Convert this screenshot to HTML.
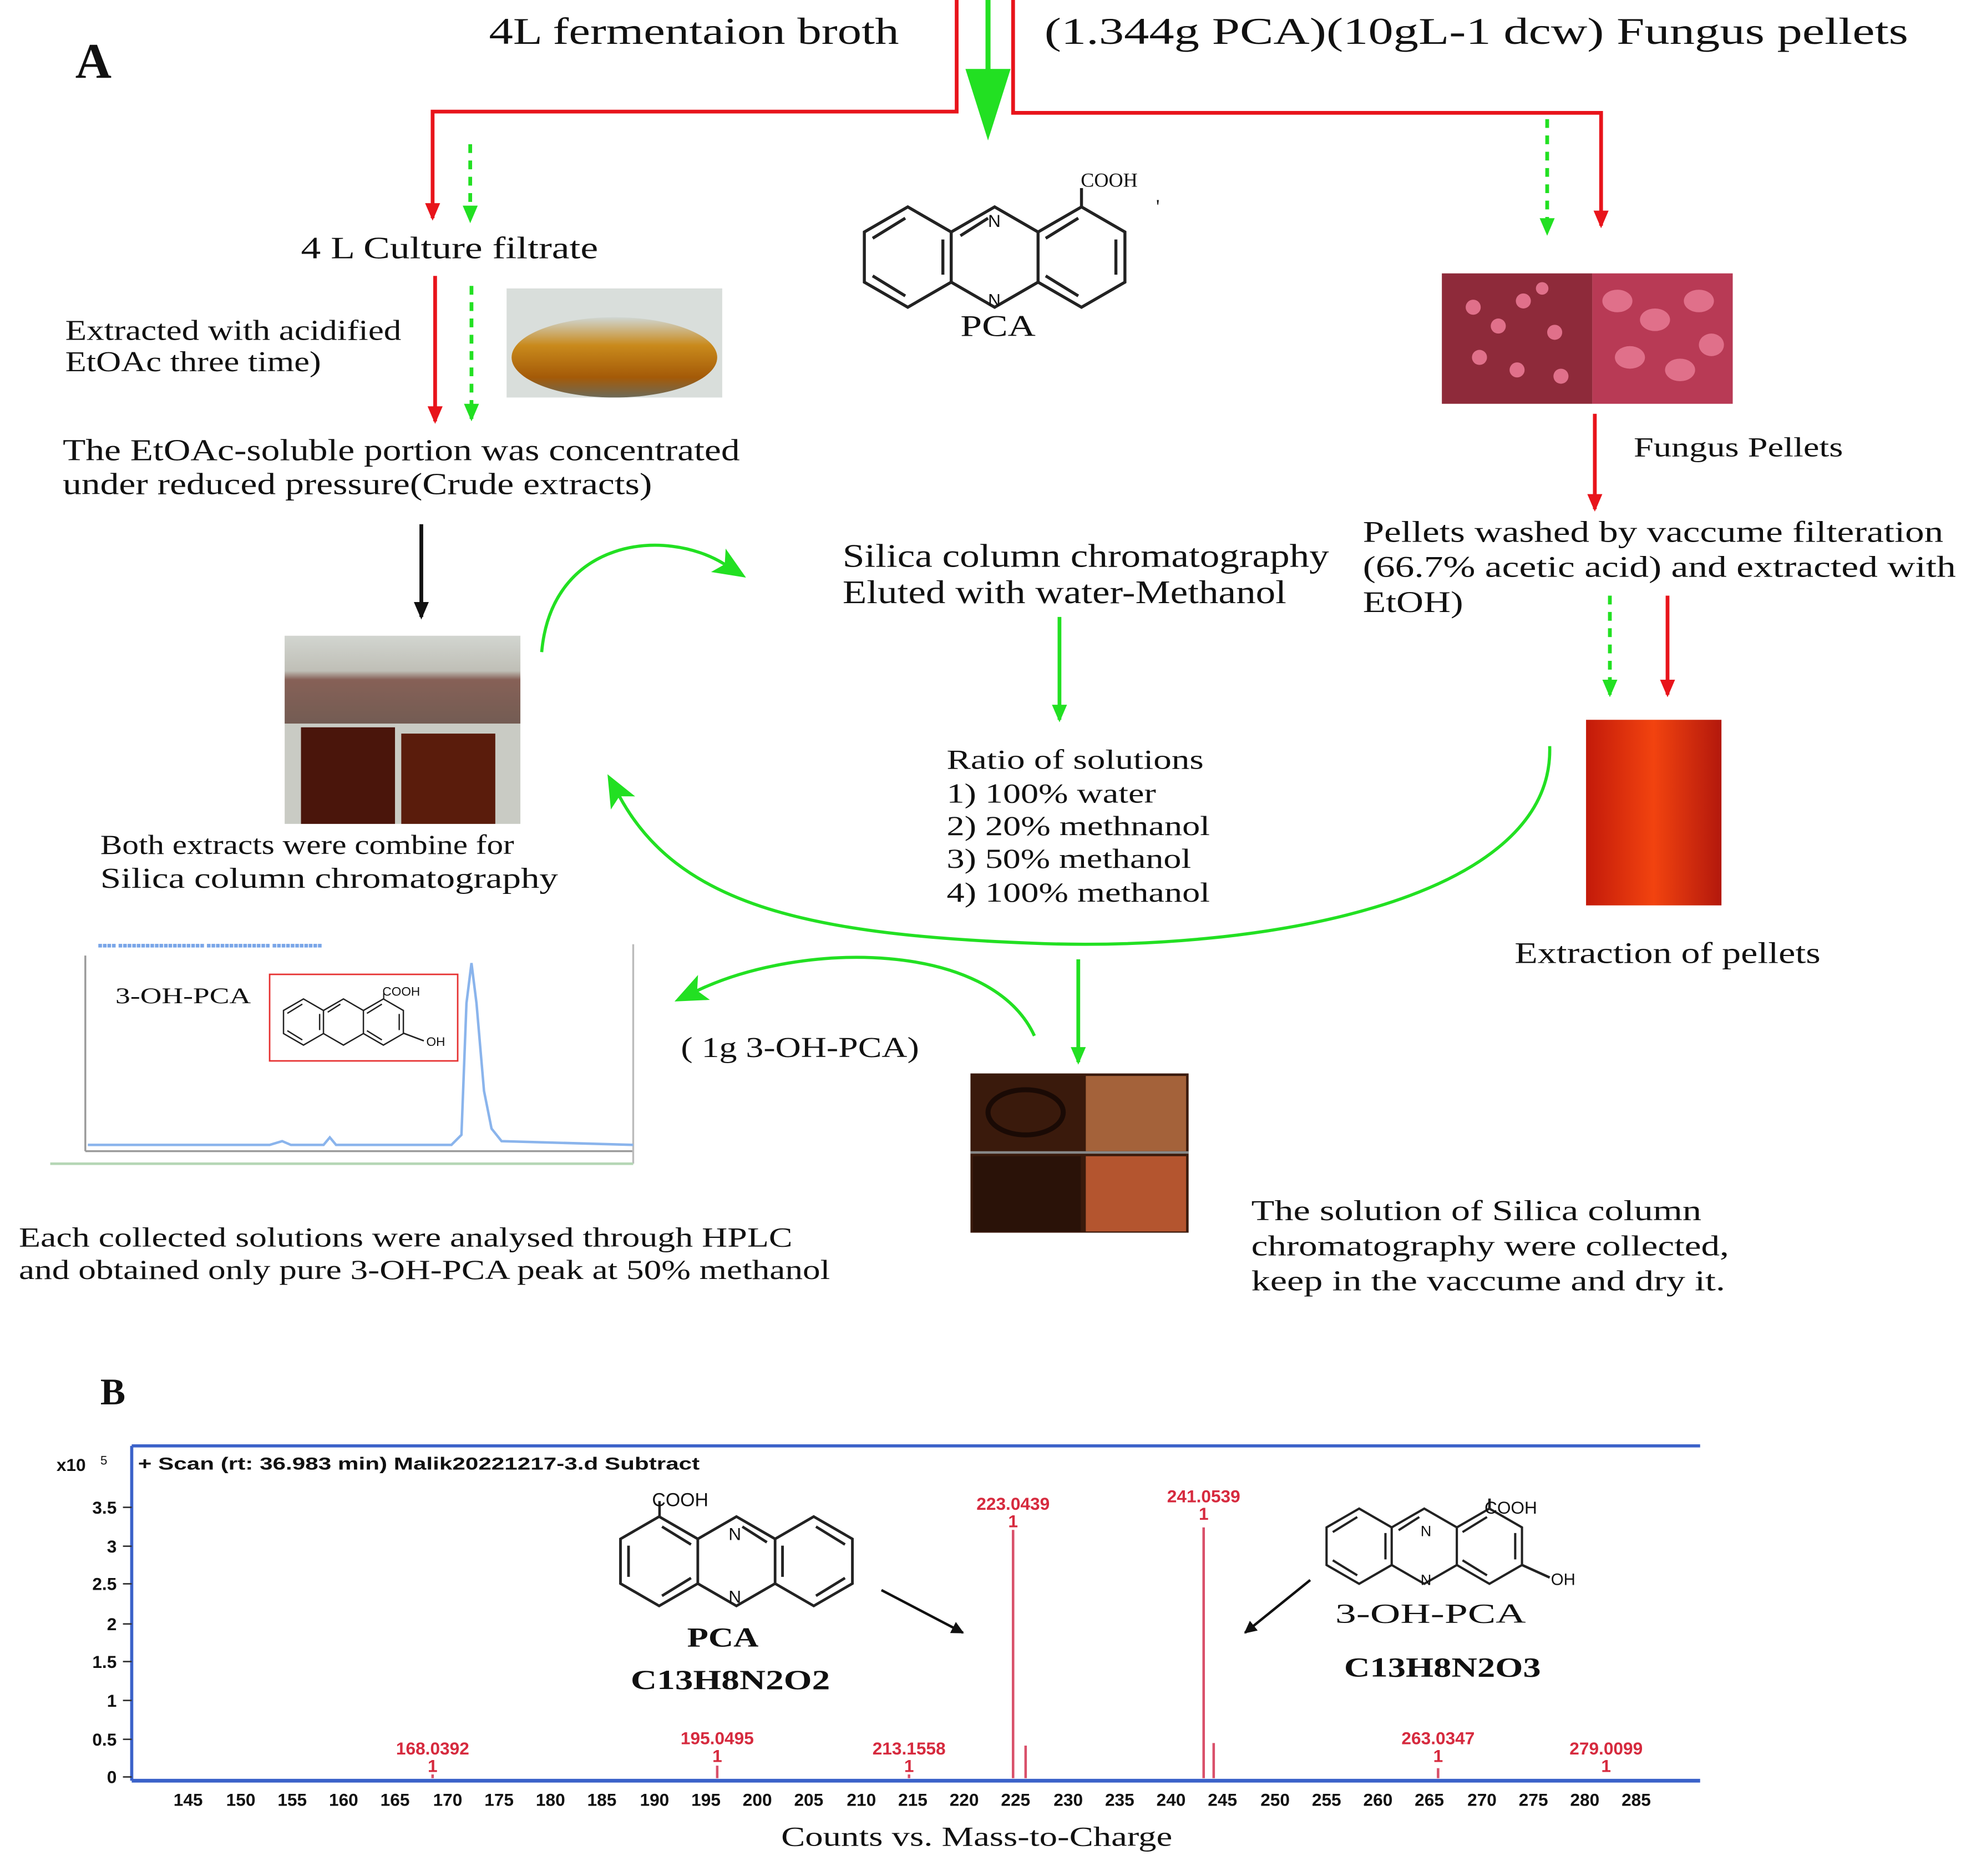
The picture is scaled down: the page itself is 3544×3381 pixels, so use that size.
<!DOCTYPE html>
<html><head><meta charset="utf-8"><style>
html,body{margin:0;padding:0;background:#fff}
svg{display:block}
text{font-family:"Liberation Serif",serif;fill:#111}
.s{font-family:"Liberation Sans",sans-serif}
</style></head><body>
<svg width="3544" height="3381" viewBox="0 0 1568 1496" xmlns="http://www.w3.org/2000/svg">
<defs>
<marker id="rh" markerWidth="14" markerHeight="12" refX="12" refY="6" orient="auto" markerUnits="userSpaceOnUse" viewBox="0 0 14 12"><path d="M0,0 L14,6 L0,12z" fill="#e8141b"/></marker>
<marker id="gh" markerWidth="14" markerHeight="12" refX="12" refY="6" orient="auto" markerUnits="userSpaceOnUse" viewBox="0 0 14 12"><path d="M0,0 L14,6 L0,12z" fill="#22e022"/></marker>
<marker id="bh" markerWidth="14" markerHeight="12" refX="12" refY="6" orient="auto" markerUnits="userSpaceOnUse" viewBox="0 0 14 12"><path d="M0,0 L14,6 L0,12z" fill="#111"/></marker>
<marker id="gc" markerWidth="26" markerHeight="26" refX="6" refY="13" orient="auto" markerUnits="userSpaceOnUse" viewBox="0 0 26 26"><path d="M0,2 L26,13 L0,24 L6,13z" fill="#22e022"/></marker>
<marker id="kh" markerWidth="10" markerHeight="10" refX="9" refY="5" orient="auto" markerUnits="userSpaceOnUse" viewBox="0 0 10 10"><path d="M0,0 L10,5 L0,10z" fill="#111"/></marker>
<g id="phz" fill="none" stroke="#222" stroke-width="2.4">
<polygon points="0,-40 34.64,-20 34.64,20 0,40 -34.64,20 -34.64,-20"/>
<polyline points="34.64,-20 69.28,-40 103.92,-20 103.92,20 69.28,40 34.64,20"/>
<polyline points="103.92,-20 138.56,-40 173.2,-20 173.2,20 138.56,40 103.92,20"/>
<line x1="-28" y1="-15" x2="-2" y2="-31"/><line x1="-28" y1="15" x2="-2" y2="31"/><line x1="28" y1="-14" x2="28" y2="14"/>
<line x1="110" y1="-15" x2="136" y2="-31"/><line x1="166" y1="-14" x2="166" y2="14"/><line x1="110" y1="15" x2="136" y2="31"/>
<line x1="42" y1="-17" x2="64" y2="-31"/>
</g>
<linearGradient id="flask" x1="0" y1="0" x2="0" y2="1"><stop offset="0" stop-color="#cfd6d2"/><stop offset=".35" stop-color="#c98a1c"/><stop offset=".75" stop-color="#a45a08"/><stop offset="1" stop-color="#6d6a58"/></linearGradient>
<linearGradient id="beak" x1="0" y1="0" x2="0" y2="1"><stop offset="0" stop-color="#d8dcd8"/><stop offset=".4" stop-color="#b9b7ae"/><stop offset=".5" stop-color="#5a1a0e"/><stop offset="1" stop-color="#3a1208"/></linearGradient>
<linearGradient id="tube" x1="0" y1="0" x2="1" y2="0"><stop offset="0" stop-color="#c31a0a"/><stop offset=".5" stop-color="#f2430f"/><stop offset="1" stop-color="#b3180c"/></linearGradient>
</defs>

<text x="60" y="62" font-size="40" font-weight="bold">A</text>
<text x="390" y="35" font-size="30" textLength="327" lengthAdjust="spacingAndGlyphs">4L fermentaion broth</text>
<text x="833" y="35" font-size="30" textLength="689" lengthAdjust="spacingAndGlyphs">(1.344g PCA)(10gL-1 dcw) Fungus pellets</text>

<polyline points="763,0 763,89 345,89 345,174" fill="none" stroke="#e8141b" stroke-width="3" marker-end="url(#rh)"/>
<polyline points="808,0 808,90 1277,90 1277,180" fill="none" stroke="#e8141b" stroke-width="3" marker-end="url(#rh)"/>
<line x1="788" y1="0" x2="788" y2="70" stroke="#22e022" stroke-width="4"/>
<path d="M770,55 L806,55 L788,112z" fill="#22e022"/>
<line x1="375" y1="115" x2="375" y2="176" stroke="#22e022" stroke-width="3" stroke-dasharray="7,6" marker-end="url(#gh)"/>
<line x1="1234" y1="95" x2="1234" y2="186" stroke="#22e022" stroke-width="3" stroke-dasharray="7,6" marker-end="url(#gh)"/>

<text x="240" y="206" font-size="25" textLength="237" lengthAdjust="spacingAndGlyphs">4 L Culture filtrate</text>
<line x1="347" y1="220" x2="347" y2="336" stroke="#e8141b" stroke-width="3" marker-end="url(#rh)"/>
<line x1="376" y1="228" x2="376" y2="334" stroke="#22e022" stroke-width="3" stroke-dasharray="7,6" marker-end="url(#gh)"/>
<rect x="404" y="230" width="172" height="87" fill="#d9dedb"/>
<ellipse cx="490" cy="285" rx="82" ry="32" fill="url(#flask)"/>
<text x="52" y="271" font-size="23" textLength="268" lengthAdjust="spacingAndGlyphs">Extracted with acidified</text>
<text x="52" y="296" font-size="23" textLength="204" lengthAdjust="spacingAndGlyphs">EtOAc three time)</text>
<text x="50" y="367" font-size="24.5" textLength="540" lengthAdjust="spacingAndGlyphs">The EtOAc-soluble portion was concentrated</text>
<text x="50" y="394" font-size="24.5" textLength="470" lengthAdjust="spacingAndGlyphs">under reduced pressure(Crude extracts)</text>
<line x1="336" y1="418" x2="336" y2="492" stroke="#111" stroke-width="3" marker-end="url(#bh)"/>

<rect x="227" y="507" width="188" height="150" fill="#c9cbc4"/>
<rect x="240" y="580" width="75" height="77" fill="#4a150b"/>
<rect x="320" y="585" width="75" height="72" fill="#5a1c0c"/>
<rect x="227" y="507" width="188" height="70" fill="url(#beak)" opacity=".6"/>
<text x="80" y="681" font-size="22" textLength="330" lengthAdjust="spacingAndGlyphs">Both extracts were combine for</text>
<text x="80" y="708" font-size="23" textLength="365" lengthAdjust="spacingAndGlyphs">Silica column chromatography</text>

<use href="#phz" transform="translate(724,205)"/>
<line x1="862.56" y1="165" x2="862.56" y2="150" stroke="#222" stroke-width="2.4"/>
<text x="862" y="149" font-size="16">COOH</text>
<text x="788" y="181" font-size="14" class="s">N</text>
<text x="788" y="244" font-size="14" class="s">N</text>
<text x="922" y="170" font-size="16">'</text>
<text x="766" y="268" font-size="24" textLength="60" lengthAdjust="spacingAndGlyphs">PCA</text>

<rect x="1150" y="218" width="120" height="104" fill="#8e2a3a"/>
<rect x="1270" y="218" width="112" height="104" fill="#b83a55"/>
<g fill="#e0708a">
<circle cx="1175" cy="245" r="6"/><circle cx="1195" cy="260" r="6"/><circle cx="1215" cy="240" r="6"/><circle cx="1240" cy="265" r="6"/><circle cx="1180" cy="285" r="6"/><circle cx="1210" cy="295" r="6"/><circle cx="1245" cy="300" r="6"/><circle cx="1230" cy="230" r="5"/>
<ellipse cx="1290" cy="240" rx="12" ry="9"/><ellipse cx="1320" cy="255" rx="12" ry="9"/><ellipse cx="1355" cy="240" rx="12" ry="9"/><ellipse cx="1300" cy="285" rx="12" ry="9"/><ellipse cx="1340" cy="295" rx="12" ry="9"/><ellipse cx="1365" cy="275" rx="10" ry="9"/>
</g>
<line x1="1272" y1="330" x2="1272" y2="406" stroke="#e8141b" stroke-width="3" marker-end="url(#rh)"/>
<text x="1303" y="364" font-size="22" textLength="167" lengthAdjust="spacingAndGlyphs">Fungus Pellets</text>
<text x="1087" y="432" font-size="24" textLength="463" lengthAdjust="spacingAndGlyphs">Pellets washed by vaccume filteration</text>
<text x="1087" y="460" font-size="24" textLength="473" lengthAdjust="spacingAndGlyphs">(66.7% acetic acid)  and extracted with</text>
<text x="1087" y="488" font-size="24" textLength="80" lengthAdjust="spacingAndGlyphs">EtOH)</text>
<line x1="1284" y1="475" x2="1284" y2="554" stroke="#22e022" stroke-width="3" stroke-dasharray="7,6" marker-end="url(#gh)"/>
<line x1="1330" y1="475" x2="1330" y2="554" stroke="#e8141b" stroke-width="3" marker-end="url(#rh)"/>
<rect x="1265" y="574" width="108" height="148" fill="url(#tube)"/>
<text x="1208" y="768" font-size="24" textLength="244" lengthAdjust="spacingAndGlyphs">Extraction of pellets</text>

<text x="672" y="452" font-size="26" textLength="388" lengthAdjust="spacingAndGlyphs">Silica column chromatography</text>
<text x="672" y="481" font-size="26" textLength="354" lengthAdjust="spacingAndGlyphs">Eluted with water-Methanol</text>
<line x1="845" y1="492" x2="845" y2="574" stroke="#22e022" stroke-width="3" marker-end="url(#gh)"/>
<text x="755" y="613" font-size="22" textLength="205" lengthAdjust="spacingAndGlyphs">Ratio of solutions</text>
<text x="755" y="640" font-size="22" textLength="167" lengthAdjust="spacingAndGlyphs">1) 100% water</text>
<text x="755" y="666" font-size="22" textLength="210" lengthAdjust="spacingAndGlyphs">2) 20% methnanol</text>
<text x="755" y="692" font-size="22" textLength="195" lengthAdjust="spacingAndGlyphs">3) 50% methanol</text>
<text x="755" y="719" font-size="22" textLength="210" lengthAdjust="spacingAndGlyphs">4) 100% methanol</text>

<path d="M432,520 C440,430 530,420 578,450" fill="none" stroke="#22e022" stroke-width="2.5" marker-end="url(#gc)"/>
<path d="M1236,595 C1240,720 1000,760 820,752 C640,745 540,720 494,635" fill="none" stroke="#22e022" stroke-width="2.5" marker-end="url(#gc)"/>
<line x1="860" y1="765" x2="860" y2="847" stroke="#22e022" stroke-width="3" marker-end="url(#gh)"/>
<path d="M825,826 C790,750 640,750 556,790" fill="none" stroke="#22e022" stroke-width="2.5" marker-end="url(#gc)"/>
<text x="543" y="843" font-size="23" textLength="190" lengthAdjust="spacingAndGlyphs">( 1g 3-OH-PCA)</text>

<rect x="774" y="856" width="174" height="127" fill="#3a1a0c"/>
<rect x="866" y="858" width="80" height="60" fill="#a4623a"/>
<rect x="866" y="922" width="80" height="60" fill="#b4552f"/>
<ellipse cx="818" cy="887" rx="30" ry="18" fill="none" stroke="#1a0a05" stroke-width="4"/>
<rect x="776" y="922" width="86" height="60" fill="#2a1208"/>
<line x1="774" y1="919" x2="948" y2="919" stroke="#888" stroke-width="2"/>

<rect x="45" y="750" width="462" height="180" fill="#fff"/>
<text x="78" y="756" font-size="6" class="s" style="fill:#7aa6e8">■■■■ ■■■■■■■■■■■■■■■■■■■ ■■■■■■■■■■■■■■ ■■■■■■■■■■■</text>
<line x1="68" y1="762" x2="68" y2="918" stroke="#999" stroke-width="1.5"/>
<line x1="68" y1="918" x2="505" y2="918" stroke="#999" stroke-width="1.5"/>
<line x1="505" y1="753" x2="505" y2="928" stroke="#bbb" stroke-width="1.5"/>
<line x1="40" y1="928" x2="505" y2="928" stroke="#b5d6b5" stroke-width="2"/>
<path d="M70,913 L215,913 L225,910 L232,913 L258,913 L263,907 L268,913 L360,913 L368,905 L372,800 L376,768 L380,800 L386,870 L392,900 L400,910 L505,913" fill="none" stroke="#8ab4ec" stroke-width="2"/>
<rect x="215" y="777" width="150" height="69" fill="#fff" stroke="#e63030" stroke-width="1.2"/>
<text x="92" y="800" font-size="18" textLength="108" lengthAdjust="spacingAndGlyphs">3-OH-PCA</text>
<use href="#phz" transform="translate(242,815) scale(.46)"/>
<line x1="306" y1="797" x2="306" y2="792" stroke="#222"/>
<text x="305" y="794" font-size="10" class="s">COOH</text>
<text x="340" y="834" font-size="10" class="s">OH</text>
<line x1="322" y1="824" x2="338" y2="830" stroke="#222" stroke-width="1.2"/>

<text x="15" y="994" font-size="22" textLength="617" lengthAdjust="spacingAndGlyphs">Each  collected solutions were analysed through HPLC</text>
<text x="15" y="1020" font-size="22" textLength="647" lengthAdjust="spacingAndGlyphs">and obtained only pure 3-OH-PCA peak at 50% methanol</text>
<text x="998" y="973" font-size="23" textLength="359" lengthAdjust="spacingAndGlyphs">The solution of Silica column</text>
<text x="998" y="1001" font-size="23" textLength="381" lengthAdjust="spacingAndGlyphs">chromatography were collected,</text>
<text x="998" y="1029" font-size="23" textLength="378" lengthAdjust="spacingAndGlyphs">keep in the vaccume and dry it.</text>

<text x="80" y="1120" font-size="30" font-weight="bold">B</text>
<line x1="105" y1="1153" x2="1356" y2="1153" stroke="#3b62c9" stroke-width="2.5"/>
<line x1="105" y1="1153" x2="105" y2="1420" stroke="#3b62c9" stroke-width="2.5"/>
<line x1="105" y1="1420" x2="1356" y2="1420" stroke="#3b62c9" stroke-width="3"/>
<text x="45" y="1173" font-size="14" class="s" font-weight="bold">x10</text><text x="80" y="1168" font-size="10" class="s">5</text>
<text x="110" y="1172" font-size="14" class="s" font-weight="bold" textLength="448" lengthAdjust="spacingAndGlyphs">+ Scan (rt: 36.983 min) Malik20221217-3.d  Subtract</text>
<g font-size="14" font-weight="bold" text-anchor="end">
<text x="93" y="1207" class="s">3.5</text><text x="93" y="1238" class="s">3</text><text x="93" y="1268" class="s">2.5</text><text x="93" y="1300" class="s">2</text><text x="93" y="1330" class="s">1.5</text><text x="93" y="1361" class="s">1</text><text x="93" y="1392" class="s">0.5</text><text x="93" y="1422" class="s">0</text>
</g>
<g stroke="#333" stroke-width="1.2">
<line x1="98" y1="1202" x2="105" y2="1202"/><line x1="98" y1="1233" x2="105" y2="1233"/><line x1="98" y1="1263" x2="105" y2="1263"/><line x1="98" y1="1295" x2="105" y2="1295"/><line x1="98" y1="1325" x2="105" y2="1325"/><line x1="98" y1="1356" x2="105" y2="1356"/><line x1="98" y1="1387" x2="105" y2="1387"/><line x1="98" y1="1417" x2="105" y2="1417"/>
</g>
<g font-size="14" font-weight="bold" text-anchor="middle">
<text x="150" y="1440" class="s">145</text><text x="192" y="1440" class="s">150</text><text x="233" y="1440" class="s">155</text><text x="274" y="1440" class="s">160</text><text x="315" y="1440" class="s">165</text><text x="357" y="1440" class="s">170</text><text x="398" y="1440" class="s">175</text><text x="439" y="1440" class="s">180</text><text x="480" y="1440" class="s">185</text><text x="522" y="1440" class="s">190</text><text x="563" y="1440" class="s">195</text><text x="604" y="1440" class="s">200</text><text x="645" y="1440" class="s">205</text><text x="687" y="1440" class="s">210</text><text x="728" y="1440" class="s">215</text><text x="769" y="1440" class="s">220</text><text x="810" y="1440" class="s">225</text><text x="852" y="1440" class="s">230</text><text x="893" y="1440" class="s">235</text><text x="934" y="1440" class="s">240</text><text x="975" y="1440" class="s">245</text><text x="1017" y="1440" class="s">250</text><text x="1058" y="1440" class="s">255</text><text x="1099" y="1440" class="s">260</text><text x="1140" y="1440" class="s">265</text><text x="1182" y="1440" class="s">270</text><text x="1223" y="1440" class="s">275</text><text x="1264" y="1440" class="s">280</text><text x="1305" y="1440" class="s">285</text>
</g>
<g stroke="#d9506a" stroke-width="2">
<line x1="808" y1="1418" x2="808" y2="1220"/><line x1="960" y1="1418" x2="960" y2="1218"/>
<line x1="818" y1="1418" x2="818" y2="1392"/><line x1="968" y1="1418" x2="968" y2="1390"/>
<line x1="572" y1="1418" x2="572" y2="1408"/><line x1="1147" y1="1418" x2="1147" y2="1410"/><line x1="345" y1="1418" x2="345" y2="1415"/><line x1="725" y1="1418" x2="725" y2="1415"/>
</g>
<g font-size="14" font-weight="bold" text-anchor="middle">
<text x="808" y="1204" class="s" style="fill:#d62a3e">223.0439</text><text x="808" y="1218" class="s" style="fill:#d62a3e">1</text>
<text x="960" y="1198" class="s" style="fill:#d62a3e">241.0539</text><text x="960" y="1212" class="s" style="fill:#d62a3e">1</text>
<text x="345" y="1399" class="s" style="fill:#d62a3e">168.0392</text><text x="345" y="1413" class="s" style="fill:#d62a3e">1</text>
<text x="572" y="1391" class="s" style="fill:#d62a3e">195.0495</text><text x="572" y="1405" class="s" style="fill:#d62a3e">1</text>
<text x="725" y="1399" class="s" style="fill:#d62a3e">213.1558</text><text x="725" y="1413" class="s" style="fill:#d62a3e">1</text>
<text x="1147" y="1391" class="s" style="fill:#d62a3e">263.0347</text><text x="1147" y="1405" class="s" style="fill:#d62a3e">1</text>
<text x="1281" y="1399" class="s" style="fill:#d62a3e">279.0099</text><text x="1281" y="1413" class="s" style="fill:#d62a3e">1</text>
</g>
<use href="#phz" transform="translate(649,1245) scale(-0.89,0.89)"/>
<line x1="526" y1="1210" x2="526" y2="1197" stroke="#222" stroke-width="2"/>
<text x="520" y="1201" font-size="15" class="s">COOH</text>
<text x="581" y="1228" font-size="14" class="s">N</text>
<text x="581" y="1278" font-size="14" class="s">N</text>
<text x="548" y="1313" font-size="22" font-weight="bold" textLength="57" lengthAdjust="spacingAndGlyphs">PCA</text>
<text x="503" y="1347" font-size="22" font-weight="bold" textLength="159" lengthAdjust="spacingAndGlyphs">C13H8N2O2</text>
<use href="#phz" transform="translate(1084,1233) scale(.75)"/>
<line x1="1188" y1="1203" x2="1188" y2="1195" stroke="#222" stroke-width="2"/>
<text x="1184" y="1207" font-size="14" class="s">COOH</text>
<text x="1133" y="1225" font-size="12" class="s">N</text>
<text x="1133" y="1264" font-size="12" class="s">N</text>
<line x1="1214" y1="1248" x2="1236" y2="1258" stroke="#222" stroke-width="2"/>
<text x="1237" y="1264" font-size="13" class="s">OH</text>
<text x="1065" y="1294" font-size="22" textLength="152" lengthAdjust="spacingAndGlyphs">3-OH-PCA</text>
<text x="1072" y="1337" font-size="22" font-weight="bold" textLength="157" lengthAdjust="spacingAndGlyphs">C13H8N2O3</text>
<line x1="703" y1="1268" x2="768" y2="1302" stroke="#111" stroke-width="2" marker-end="url(#kh)"/>
<line x1="1045" y1="1260" x2="993" y2="1302" stroke="#111" stroke-width="2" marker-end="url(#kh)"/>
<text x="623" y="1472" font-size="22" textLength="312" lengthAdjust="spacingAndGlyphs">Counts vs. Mass-to-Charge</text>
</svg>
</body></html>
